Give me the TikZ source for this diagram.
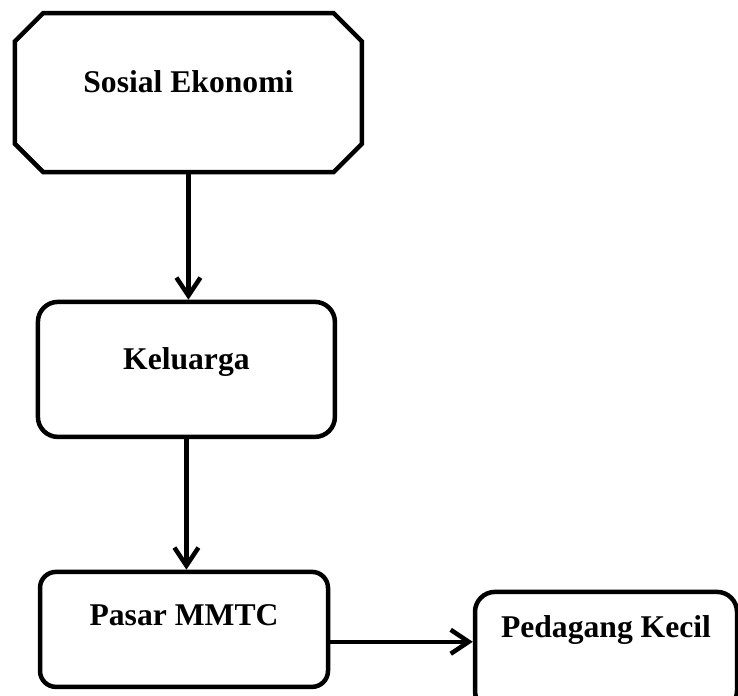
\documentclass[tikz,border=0pt]{standalone}
\usepackage{fontspec}
\setmainfont{Liberation Serif}
\usetikzlibrary{arrows.meta,shapes.misc}

\tikzset{
  box/.style={draw, line width=3.2pt, rounded corners=0.5cm, align=center,
    font=\fontsize{22.5}{27}\bfseries\selectfont, text height=0.5cm, text depth=0.5cm},
  octbox/.style={box, rounded corners=0pt, chamfered rectangle,
    chamfered rectangle xsep=0.6cm},
  arr/.style={line width=3.2pt, -{Straight Barb[length=4.5mm,width=6mm]}}
}

\begin{document}
\begin{tikzpicture}
        \path[use as bounding box, clip] (0,0) rectangle (18.45,17.375);

        % Boxes
        \node[octbox, minimum width=8.675cm, minimum height=3.975cm] (sosial) at (4.71,15.06) {Sosial Ekonomi};
        \node[box, minimum width=7.425cm, minimum height=3.375cm] (keluarga) at (4.66,8.14) {Keluarga};
        \node[box, rounded corners=0.4cm, text depth=0.7cm, minimum width=7.2cm, minimum height=2.875cm] (pasar) at (4.6,1.64) {Pasar MMTC};
        \node[box, text depth=1.2cm, minimum width=6.55cm, minimum height=2.975cm] (pedagang) at (15.15,1.09) {Pedagang Kecil};

        % Arrows
        \draw[arr] (sosial.south) -- (sosial.south |- keluarga.north);
        \draw[arr] (keluarga.south) -- (keluarga.south |- pasar.north);
        \draw[arr] ([yshift=-3.1mm]pasar.east) -- ([yshift=-3.1mm]pasar.east -| pedagang.west);
\end{tikzpicture}
\end{document}
